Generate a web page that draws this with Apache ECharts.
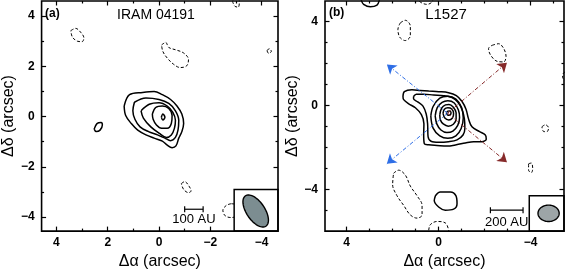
<!DOCTYPE html>
<html><head><meta charset="utf-8">
<script src="https://cdn.jsdelivr.net/npm/echarts@6/dist/echarts.min.js"></script>
<style>html,body{margin:0;padding:0;background:#fff}#c{width:567px;height:275px}</style>
</head><body><div id="c"></div>
<script>
// ---------- tick values ----------
const xMajorA = [4, 2, 0, -2, -4];
const xMinorA = [3, 1, -1, -3];
const yMajorA = [4, 2, 0, -2, -4];
const yMinorA = [3, 1, -1, -3];
const xMajorB = [4, 0, -4];
const xMinorB = [3, 2, 1, -1, -2, -3, -5];
const yMajorB = [4, 0, -4];
const yMinorB = [3, 2, 1, -1, -2, -3, -5];

// ---------- panel (a): IRAM 04191 contours [Δα, Δδ] ----------
const a_solid1 = [[1.36,0.42],[1.15,0.87],[0.64,0.96],[0.19,1.0],[-0.13,0.87],[-0.45,0.68],[-0.70,0.42],[-0.89,0.10],[-0.96,-0.28],[-0.89,-0.60],[-0.77,-0.86],[-0.66,-1.17],[-0.51,-1.24],[-0.32,-1.14],[-0.13,-0.98],[0.19,-0.86],[0.51,-0.73],[0.83,-0.54],[1.08,-0.28],[1.30,0.04]];
const a_solid2 = [[0.96,0.57],[0.51,0.74],[0,0.68],[-0.38,0.52],[-0.64,0.23],[-0.77,-0.15],[-0.74,-0.54],[-0.64,-0.83],[-0.45,-0.96],[-0.23,-0.86],[0.06,-0.73],[0.41,-0.60],[0.74,-0.41],[0.94,-0.11],[1.02,0.23]];
const a_solid3 = [[0.70,0.23],[0.38,0.49],[0,0.55],[-0.32,0.42],[-0.54,0.17],[-0.64,-0.15],[-0.60,-0.47],[-0.48,-0.73],[-0.29,-0.83],[0,-0.66],[0.32,-0.41],[0.61,-0.06]];
const a_solid4 = [[0.26,0.10],[0.13,0.36],[-0.13,0.42],[-0.38,0.32],[-0.51,0.04],[-0.48,-0.28],[-0.32,-0.47],[-0.10,-0.47],[0.10,-0.34],[0.23,-0.11]];
const a_solid5 = [[-0.09,-0.03],[-0.15,0.10],[-0.23,-0.03],[-0.15,-0.14]];
const a_solid6 = [[2.53,-0.50],[2.42,-0.28],[2.26,-0.24],[2.21,-0.34],[2.30,-0.54],[2.45,-0.60]];
const a_dash1 = [[3.44,3.42],[3.25,3.51],[3.06,3.36],[2.93,3.13],[3.00,2.98],[3.19,3.00],[3.38,3.17]];
const a_dash2 = [[-0.10,2.85],[-0.26,2.95],[-0.38,2.75],[-0.64,2.66],[-0.96,2.53],[-1.15,2.27],[-1.08,2.02],[-0.83,1.95],[-0.57,2.08],[-0.32,2.33],[-0.15,2.59]];
const a_dash3 = [[-2.87,4.57],[-2.96,4.75],[-3.13,4.70],[-3.13,4.51],[-3.09,4.36],[-2.96,4.39]];
const a_dash4 = [[-4.21,2.63],[-4.31,2.70],[-4.38,2.59],[-4.27,2.52]];
const a_dash5 = [[-0.87,-2.67],[-1.00,-2.59],[-1.17,-2.77],[-1.25,-2.96],[-1.15,-3.03],[-0.96,-2.90]];
const a_dash6 = [[-2.81,-3.47],[-2.62,-3.54],[-2.49,-3.73],[-2.58,-3.95],[-2.81,-4.02],[-3.10,-3.90],[-3.10,-3.55]];

// ---------- panel (b): L1527 contours ----------
const b_solid1 = [[1.55,0.43],[1.49,0.66],[1.16,0.75],[0.80,0.72],[0.43,0.69],[0,0.66],[-0.43,0.61],[-0.77,0.47],[-1.01,0.20],[-1.19,-0.18],[-1.30,-0.64],[-1.45,-1.02],[-1.78,-1.25],[-2.03,-1.41],[-2.07,-1.61],[-1.88,-1.73],[-1.52,-1.73],[-1.16,-1.79],[-0.77,-1.88],[-0.36,-1.94],[0.07,-1.91],[0.43,-1.88],[0.62,-1.83],[0.65,-1.41],[0.64,-0.87],[0.75,-0.44],[1.01,-0.11],[1.30,0.08],[1.52,0.28]];
const b_solid2 = [[1.09,0.43],[0.97,0.54],[0.65,0.54],[0.22,0.50],[-0.22,0.47],[-0.58,0.38],[-0.83,0.17],[-1.01,-0.18],[-1.12,-0.64],[-1.14,-1.10],[-1.06,-1.41],[-0.80,-1.64],[-0.43,-1.73],[0,-1.76],[0.33,-1.71],[0.46,-1.48],[0.48,-0.87],[0.54,-0.41],[0.68,-0.03],[0.91,0.17],[1.09,0.32]];
const b_solid3 = [[0.34,-0.50],[0.24,-0.05],[-0.05,0.35],[-0.40,0.44],[-0.75,0.30],[-1.00,-0.10],[-1.07,-0.60],[-0.98,-1.10],[-0.75,-1.45],[-0.40,-1.57],[-0.05,-1.45],[0.24,-1.08]];
const b_solid4 = [[0.15,-0.50],[0.06,-0.10],[-0.15,0.15],[-0.40,0.23],[-0.68,0.12],[-0.86,-0.22],[-0.91,-0.58],[-0.83,-0.95],[-0.62,-1.22],[-0.36,-1.29],[-0.10,-1.17],[0.08,-0.88]];
const b_solid5 = [[-0.05,-0.45],[-0.13,-0.13],[-0.30,0.03],[-0.45,0.05],[-0.63,-0.07],[-0.76,-0.35],[-0.76,-0.65],[-0.64,-0.90],[-0.42,-0.99],[-0.20,-0.88],[-0.08,-0.70]];
const b_solid6 = [[-0.19,-0.38],[-0.25,-0.18],[-0.40,-0.11],[-0.57,-0.17],[-0.65,-0.38],[-0.60,-0.60],[-0.44,-0.69],[-0.27,-0.60]];
const b_solid7 = [[-0.33,-0.36],[-0.40,-0.27],[-0.48,-0.26],[-0.54,-0.36],[-0.48,-0.46],[-0.40,-0.47]];
const b_solid8 = [[0.14,-4.31],[-0.07,-4.13],[-0.51,-4.13],[-0.75,-4.31],[-0.80,-4.69],[-0.65,-4.95],[-0.29,-5.00],[0,-4.85],[0.19,-4.54]];
const b_solid9 = [[3.40,5.30],[3.36,5.02],[3.26,4.83],[2.97,4.71],[2.68,4.79],[2.58,5.02],[2.55,5.30]];
const b_dash1 = [[1.67,3.94],[1.45,4.07],[1.23,3.79],[1.23,3.33],[1.45,3.10],[1.69,3.26],[1.77,3.64]];
const b_dash2 = [[-2.32,2.87],[-2.61,2.95],[-2.83,2.72],[-2.93,2.34],[-2.83,2.08],[-2.54,2.11],[-2.25,2.42],[-2.17,2.72]];
const b_dash3 = [[0.90,5.20],[0.87,5.02],[0.72,4.89],[0.51,4.83],[0.29,4.94],[0.22,5.20]];
const b_dash4 = [[-5.70,1.70],[-5.43,1.55],[-5.39,1.35],[-5.51,1.19],[-5.70,1.10]];
const b_dash5 = [[-4.49,-1.02],[-4.64,-0.92],[-4.78,-1.07],[-4.71,-1.25],[-4.57,-1.25]];
const b_dash6 = [[-3.91,-2.78],[-4.03,-2.75],[-4.09,-3.01],[-4.03,-3.21],[-3.91,-3.09]];
const b_dash7 = [[1.96,-3.24],[1.74,-3.09],[1.45,-3.32],[1.23,-3.85],[0.94,-4.31],[0.72,-4.77],[0.72,-5.23],[0.94,-5.38],[1.23,-5.23],[1.52,-4.77],[1.81,-4.31],[2.00,-3.78]];
const b_dash8 = [[0.45,-6.20],[0.43,-5.95],[0.36,-5.69],[0.07,-5.54],[-0.29,-5.61],[-0.43,-5.92],[-0.46,-6.20]];

// outflow arrows (from source to tip)
const outflowCenter = [-0.39, -0.37];
const blueTips = [[2.25, 1.96], [2.25, -2.78]];
const redTips = [[-2.97, 2.04], [-2.97, -2.71]];

// beams [Δα, Δδ, major, minor, PA(deg)]
const beamA = [-3.77, -3.76, 1.45, 0.72, 33];
const beamB = [-4.78, -5.15, 0.92, 0.78, 90];
// beam box corners
const boxA = [-2.93, -2.90];
const boxB = [-3.94, -4.31];
// scale bars [x1, x2, y, labelY]
const barA = [-1.00, -1.72, -3.69, -4.10];
const barB = [-2.25, -3.67, -5.00, -5.60];

const FONT = '"Liberation Sans", Arial, Helvetica, sans-serif';
const minus = v => (v < 0 ? '\u2212' + Math.abs(v) : String(v));

function axisSet(dim, grid, min, max, major, minor, labeled, name, nameGap) {
  const pos = dim === 'x' ? ['bottom', 'top'] : ['left', 'right'];
  const base = {
    type: 'value', gridIndex: grid, min: min, max: max, inverse: dim === 'x',
    axisLine: { show: false, onZero: false }, splitLine: { show: false }
  };
  const out = [];
  pos.forEach((p, k) => {
    out.push(Object.assign({}, base, {
      position: p,
      axisTick: { show: true, inside: true, length: 4.5, customValues: major, lineStyle: { color: '#000', width: 1.2 } },
      axisLabel: (k === 0 && labeled) ? { show: true, customValues: major, formatter: minus, fontFamily: FONT, fontSize: 12, fontWeight: 'bold', color: '#000', margin: dim === 'x' ? 6 : 7 } : { show: false },
      name: k === 0 ? name : '', nameLocation: 'middle', nameGap: nameGap,
      nameTextStyle: { fontFamily: FONT, fontSize: 16, color: '#000' }
    }));
    out.push(Object.assign({}, base, {
      position: p,
      axisTick: { show: true, inside: true, length: 2.5, customValues: minor, lineStyle: { color: '#000', width: 1.2 } },
      axisLabel: { show: false }
    }));
  });
  return out;
}

const xAxes = [].concat(
  axisSet('x', 0, -4.64, 4.58, xMajorA, xMinorA, true, '\u0394\u03b1 (arcsec)', 13),
  axisSet('x', 1, -5.45, 4.94, xMajorB, xMinorB, true, '\u0394\u03b1 (arcsec)', 13)
);
const yAxes = [].concat(
  axisSet('y', 0, -4.56, 4.60, yMajorA, yMinorA, true, '\u0394\u03b4 (arcsec)', 22),
  axisSet('y', 1, -6.0, 4.99, yMajorB, yMinorB, true, '\u0394\u03b4 (arcsec)', 22)
);

const series = [];
function contour(pts, panel, dashed, closed) {
  const d = closed === false ? pts : pts.concat([pts[0]]);
  series.push({
    type: 'line', xAxisIndex: panel * 4, yAxisIndex: panel * 4, data: d,
    symbol: 'none', smooth: 0.35, silent: true, z: 2, clip: true,
    lineStyle: dashed ? { color: '#000', width: 1, type: [3, 2] } : { color: '#000', width: 1.5 }
  });
}
[a_solid1, a_solid2, a_solid3, a_solid4, a_solid5, a_solid6].forEach(c => contour(c, 0, false));
[a_dash1, a_dash2, a_dash3, a_dash4, a_dash5, a_dash6].forEach(c => contour(c, 0, true));
[b_solid1, b_solid2, b_solid3, b_solid4, b_solid5, b_solid6, b_solid7, b_solid8].forEach(c => contour(c, 1, false));
contour(b_solid9, 1, false, false);
[b_dash1, b_dash2, b_dash5, b_dash6, b_dash7].forEach(c => contour(c, 1, true));
[b_dash3, b_dash4, b_dash8].forEach(c => contour(c, 1, true, false));

// outflow arrows
function arrows(tips, color) {
  series.push({
    type: 'lines', coordinateSystem: 'cartesian2d', xAxisIndex: 4, yAxisIndex: 4, z: 3, silent: true,
    symbol: ['none', 'arrow'], symbolSize: 9,
    lineStyle: { color: color, width: 1, type: [4, 2, 1, 2], opacity: 1, curveness: 0 },
    data: tips.map(t => ({ coords: [outflowCenter, t] }))
  });
}
arrows(blueTips, '#2e6ee6');
arrows(redTips, '#862a2a');

// beam box, beam, scale bar
function boxSeries(corner, panel) {
  series.push({
    type: 'custom', coordinateSystem: 'cartesian2d', xAxisIndex: panel * 4, yAxisIndex: panel * 4, z: 5, silent: true,
    data: [corner],
    renderItem: function (params, api) {
      const p = api.coord([api.value(0), api.value(1)]);
      const cs = params.coordSys;
      return { type: 'rect', shape: { x: p[0], y: p[1], width: cs.x + cs.width - p[0], height: cs.y + cs.height - p[1] },
        style: { fill: '#fff', stroke: '#000', lineWidth: 1.5 } };
    }
  });
}
function beamSeries(beam, panel, fill) {
  series.push({
    type: 'custom', coordinateSystem: 'cartesian2d', xAxisIndex: panel * 4, yAxisIndex: panel * 4, z: 6, silent: true,
    data: [beam],
    renderItem: function (params, api) {
      const cx = api.value(0), cy = api.value(1), maj = api.value(2), mn = api.value(3), pa = api.value(4) * Math.PI / 180;
      const pts = [];
      for (let i = 0; i < 72; i++) {
        const t = i / 72 * 2 * Math.PI, a = Math.cos(t) * maj / 2, b = Math.sin(t) * mn / 2;
        pts.push(api.coord([cx + a * Math.sin(pa) + b * Math.cos(pa), cy + a * Math.cos(pa) - b * Math.sin(pa)]));
      }
      return { type: 'polygon', shape: { points: pts }, style: { fill: fill, stroke: '#000', lineWidth: 1.4 } };
    }
  });
}
function barSeries(bar, panel, label, fs) {
  series.push({
    type: 'custom', coordinateSystem: 'cartesian2d', xAxisIndex: panel * 4, yAxisIndex: panel * 4, z: 6, silent: true,
    data: [bar],
    renderItem: function (params, api) {
      const p1 = api.coord([api.value(0), api.value(2)]);
      const p2 = api.coord([api.value(1), api.value(2)]);
      const pt = api.coord([(api.value(0) + api.value(1)) / 2, api.value(3)]);
      const st = { stroke: '#000', lineWidth: 1.2 };
      return { type: 'group', children: [
        { type: 'line', shape: { x1: p1[0], y1: p1[1], x2: p2[0], y2: p2[1] }, style: st },
        { type: 'line', shape: { x1: p1[0], y1: p1[1] - 3, x2: p1[0], y2: p1[1] + 3 }, style: st },
        { type: 'line', shape: { x1: p2[0], y1: p2[1] - 3, x2: p2[0], y2: p2[1] + 3 }, style: st },
        { type: 'text', style: { text: label, x: pt[0], y: pt[1], align: 'center', verticalAlign: 'middle', fontFamily: FONT, fontSize: fs, fill: '#000' } }
      ] };
    }
  });
}
boxSeries(boxA, 0); beamSeries(beamA, 0, '#7c8d91'); barSeries(barA, 0, '100 AU', 13);
boxSeries(boxB, 1); beamSeries(beamB, 1, '#9da5a7'); barSeries(barB, 1, '200 AU', 13);

const chart = echarts.init(document.getElementById('c'), null, { renderer: 'canvas' });
chart.setOption({
  animation: false,
  backgroundColor: '#fff',
  grid: [
    { left: 37, top: 1, right: 289, bottom: 35, show: true, borderColor: '#000', borderWidth: 1.6, backgroundColor: 'transparent', z: 7 },
    { left: 325, top: 1, right: 3, bottom: 35, show: true, borderColor: '#000', borderWidth: 1.6, backgroundColor: 'transparent', z: 7 }
  ],
  xAxis: xAxes,
  yAxis: yAxes,
  graphic: [
    { type: 'text', left: 45, top: 8, style: { text: '(a)', fontFamily: FONT, fontSize: 12, fontWeight: 'bold', fill: '#000' } },
    { type: 'text', x: 156, y: 15, style: { text: 'IRAM 04191', fontFamily: FONT, fontSize: 14, fill: '#000', align: 'center', verticalAlign: 'middle' } },
    { type: 'text', left: 329, top: 7, style: { text: '(b)', fontFamily: FONT, fontSize: 12, fontWeight: 'bold', fill: '#000' } },
    { type: 'text', x: 446, y: 15, style: { text: 'L1527', fontFamily: FONT, fontSize: 15, fill: '#000', align: 'center', verticalAlign: 'middle' } }
  ],
  series: series
});
</script></body></html>
